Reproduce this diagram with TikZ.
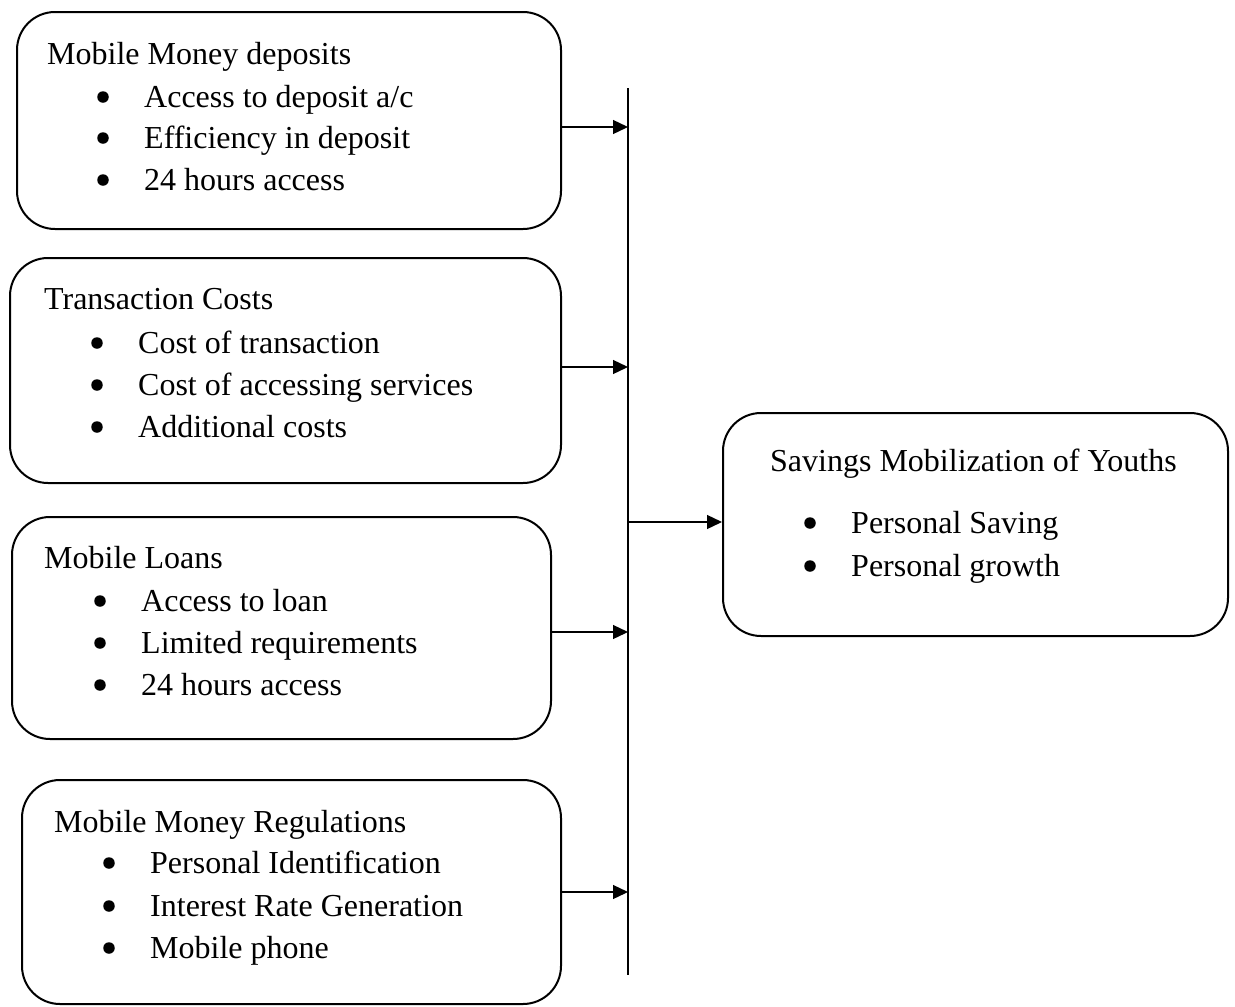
\documentclass[tikz,border=0pt]{standalone}
\usepackage{fontspec}
\setmainfont{Liberation Serif}
\usetikzlibrary{arrows.meta}
\begin{document}
\begin{tikzpicture}[x=1pt,y=-1pt,
  box/.style={draw,line width=2pt,rounded corners=38pt,inner sep=0pt},
  txt/.style={anchor=base west,inner sep=0pt,font=\fontsize{32}{38}\selectfont},
  bul/.style={circle,fill,inner sep=0pt,minimum size=11.5pt,yshift=10pt},
  arr/.style={line width=1.3pt,-{Triangle[length=15pt,width=14pt]}},
  vline/.style={line width=1.3pt}]
\useasboundingbox (0,0) rectangle (1235,1007);
% boxes
\node[box,minimum width=544pt,minimum height=217pt] (b1) at (289,120.5) {};
\node[box,minimum width=551pt,minimum height=225pt] (b2) at (285.5,370.5) {};
\node[box,minimum width=539pt,minimum height=222pt] (b3) at (281.5,628) {};
\node[box,minimum width=539pt,minimum height=224pt] (b4) at (291.5,892) {};
\node[box,minimum width=505pt,minimum height=223pt] (r) at (975.5,524.5) {};
% vertical line
\coordinate (top) at (628,88);
\coordinate (bot) at (628,975);
\draw[vline] (top) -- (bot);
\coordinate (p1) at (628,127);
\coordinate (p2) at (628,367);
\coordinate (p3) at (628,632);
\coordinate (p4) at (628,892);
\coordinate (p5) at (628,522);
\draw[arr] (b1.east |- p1) -- (p1);
\draw[arr] (b2.east |- p2) -- (p2);
\draw[arr] (b3.east |- p3) -- (p3);
\draw[arr] (b4.east |- p4) -- (p4);
\draw[arr] (p5) -- (r.west |- p5);
% box1 text
\node[txt] (t1) at (47,64) {Mobile Money deposits};
\node[bul] (u11) at (103,107) {}; \node[txt] (t11) at (144,107) {Access to deposit a/c};
\node[bul] (u12) at (103,148) {}; \node[txt] (t12) at (144,148) {Efficiency in deposit};
\node[bul] (u13) at (103,190) {}; \node[txt] (t13) at (144,190) {24 hours access};
% box2
\node[txt] (t2) at (44,309) {Transaction Costs};
\node[bul] (u21) at (97,353) {}; \node[txt] (t21) at (138,353) {Cost of transaction};
\node[bul] (u22) at (97,395) {}; \node[txt] (t22) at (138,395) {Cost of accessing services};
\node[bul] (u23) at (97,437) {}; \node[txt] (t23) at (138,437) {Additional costs};
% box3
\node[txt] (t3) at (44,568) {Mobile Loans};
\node[bul] (u31) at (100,611) {}; \node[txt] (t31) at (141,611) {Access to loan};
\node[bul] (u32) at (100,653) {}; \node[txt] (t32) at (141,653) {Limited requirements};
\node[bul] (u33) at (100,695) {}; \node[txt] (t33) at (141,695) {24 hours access};
% box4
\node[txt] (t4) at (54,832) {Mobile Money Regulations};
\node[bul] (u41) at (109,873) {}; \node[txt] (t41) at (150,873) {Personal Identification};
\node[bul] (u42) at (109,916) {}; \node[txt] (t42) at (150,916) {Interest Rate Generation};
\node[bul] (u43) at (109,958) {}; \node[txt] (t43) at (150,958) {Mobile phone};
% right box
\node[txt] (tr) at (770,471) {Savings Mobilization of Youths};
\node[bul] (ur1) at (810,533) {}; \node[txt] (tr1) at (851,533) {Personal Saving};
\node[bul] (ur2) at (810,576) {}; \node[txt] (tr2) at (851,576) {Personal growth};
\end{tikzpicture}
\end{document}
